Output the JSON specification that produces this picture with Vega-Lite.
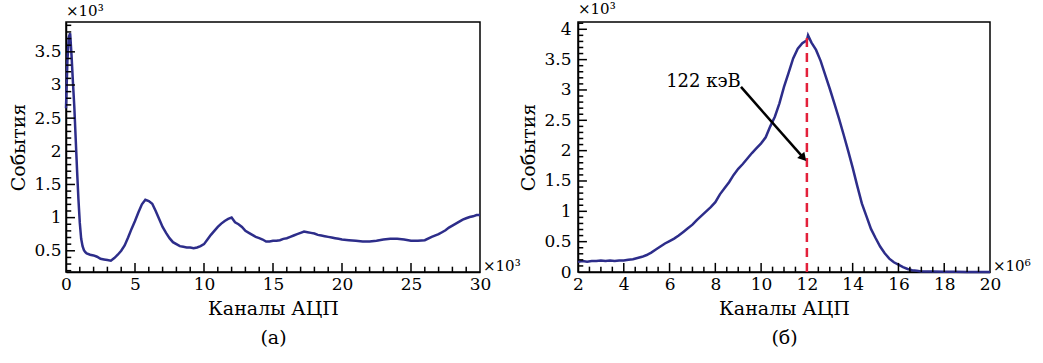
{
  "$schema": "https://vega.github.io/schema/vega-lite/v6.json",
  "padding": {"left": 9, "top": 1, "right": 5, "bottom": 5},
  "bounds": "flush",
  "spacing": 98,
  "config": {
    "font": "DejaVu Serif",
    "view": {"stroke": "black", "strokeWidth": 1.5},
    "axis": {
      "labelFont": "DejaVu Serif", "labelFontSize": 17, "labelColor": "black",
      "titleFont": "DejaVu Serif", "titleFontSize": 19, "titleFontWeight": "normal", "titleColor": "black",
      "domainColor": "black", "domainWidth": 1.5, "ticks": false, "tickCount": 200,
      "grid": false, "labelOverlap": false, "labelFlush": false, "labelBound": false
    },
    "title": {"font": "DejaVu Serif", "fontSize": 15, "fontWeight": "normal", "color": "black"}
  },
  "datasets": {
    "a": [
      {"x":0.0,"y":2.65},{"x":0.1,"y":3.35},{"x":0.2,"y":3.72},{"x":0.3,"y":3.78},{"x":0.4,"y":3.45},{"x":0.5,"y":3.05},{"x":0.6,"y":2.68},{"x":0.7,"y":2.2},{"x":0.8,"y":1.72},{"x":0.9,"y":1.28},{"x":1.0,"y":0.92},{"x":1.1,"y":0.68},{"x":1.2,"y":0.57},{"x":1.3,"y":0.51},{"x":1.4,"y":0.48},{"x":1.5,"y":0.46},
      {"x":1.75,"y":0.44},{"x":2.0,"y":0.43},{"x":2.25,"y":0.41},{"x":2.5,"y":0.38},{"x":2.75,"y":0.37},{"x":3.0,"y":0.36},{"x":3.25,"y":0.35},{"x":3.5,"y":0.39},{"x":3.75,"y":0.44},{"x":4.0,"y":0.5},{"x":4.25,"y":0.58},{"x":4.5,"y":0.7},{"x":4.75,"y":0.83},{"x":5.0,"y":0.95},{"x":5.25,"y":1.08},{"x":5.5,"y":1.2},{"x":5.75,"y":1.27},{"x":6.0,"y":1.25},{"x":6.25,"y":1.21},{"x":6.5,"y":1.1},{"x":6.75,"y":0.98},{"x":7.0,"y":0.86},{"x":7.25,"y":0.77},{"x":7.5,"y":0.69},{"x":7.75,"y":0.63},{"x":8.0,"y":0.6},{"x":8.25,"y":0.57},{"x":8.5,"y":0.56},{"x":8.75,"y":0.55},{"x":9.0,"y":0.55},{"x":9.25,"y":0.54},{"x":9.5,"y":0.55},{"x":9.75,"y":0.57},{"x":10.0,"y":0.6},{"x":10.25,"y":0.67},{"x":10.5,"y":0.74},{"x":10.75,"y":0.8},{"x":11.0,"y":0.86},{"x":11.25,"y":0.91},{"x":11.5,"y":0.95},{"x":11.75,"y":0.98},{"x":12.0,"y":1.0},{"x":12.25,"y":0.93},{"x":12.5,"y":0.9},{"x":12.75,"y":0.86},{"x":13.0,"y":0.8},{"x":13.25,"y":0.77},{"x":13.5,"y":0.74},{"x":13.75,"y":0.71},{"x":14.0,"y":0.69},{"x":14.25,"y":0.67},{"x":14.5,"y":0.64},{"x":14.75,"y":0.64},{"x":15.0,"y":0.65},{"x":15.25,"y":0.65},{"x":15.5,"y":0.66},{"x":15.75,"y":0.68},{"x":16.0,"y":0.69},{"x":16.25,"y":0.71},{"x":16.5,"y":0.73},{"x":16.75,"y":0.75},{"x":17.0,"y":0.77},{"x":17.25,"y":0.79},{"x":17.5,"y":0.78},{"x":17.75,"y":0.77},{"x":18.0,"y":0.76},{"x":18.25,"y":0.74},{"x":18.5,"y":0.73},{"x":18.75,"y":0.72},{"x":19.0,"y":0.71},{"x":19.25,"y":0.7},{"x":19.5,"y":0.69},{"x":19.75,"y":0.68},{"x":20.0,"y":0.67},{"x":20.5,"y":0.66},{"x":21.0,"y":0.65},{"x":21.5,"y":0.64},{"x":22.0,"y":0.64},{"x":22.5,"y":0.65},{"x":23.0,"y":0.67},{"x":23.5,"y":0.68},{"x":24.0,"y":0.68},{"x":24.5,"y":0.67},{"x":25.0,"y":0.65},{"x":25.5,"y":0.65},{"x":26.0,"y":0.66},{"x":26.5,"y":0.71},{"x":27.0,"y":0.75},{"x":27.25,"y":0.78},{"x":27.5,"y":0.81},{"x":27.75,"y":0.85},{"x":28.0,"y":0.88},{"x":28.25,"y":0.91},{"x":28.5,"y":0.94},{"x":28.75,"y":0.97},{"x":29.0,"y":0.99},{"x":29.25,"y":1.01},{"x":29.5,"y":1.02},{"x":29.75,"y":1.04},{"x":30.0,"y":1.04}
    ],
    "b": [
      {"x":2.0,"y":0.17},{"x":2.2,"y":0.18},{"x":2.4,"y":0.17},{"x":2.6,"y":0.18},{"x":2.8,"y":0.18},{"x":3.0,"y":0.19},{"x":3.2,"y":0.18},{"x":3.4,"y":0.19},{"x":3.6,"y":0.18},{"x":3.8,"y":0.19},{"x":4.0,"y":0.19},{"x":4.2,"y":0.2},{"x":4.4,"y":0.21},{"x":4.6,"y":0.23},{"x":4.8,"y":0.25},{"x":5.0,"y":0.28},{"x":5.2,"y":0.32},{"x":5.4,"y":0.37},{"x":5.6,"y":0.42},{"x":5.8,"y":0.47},{"x":6.0,"y":0.51},{"x":6.2,"y":0.55},{"x":6.4,"y":0.6},{"x":6.6,"y":0.66},{"x":6.8,"y":0.72},{"x":7.0,"y":0.78},{"x":7.2,"y":0.86},{"x":7.4,"y":0.93},{"x":7.6,"y":1.0},{"x":7.8,"y":1.07},{"x":8.0,"y":1.15},{"x":8.2,"y":1.28},{"x":8.4,"y":1.38},{"x":8.6,"y":1.48},{"x":8.8,"y":1.6},{"x":9.0,"y":1.7},{"x":9.2,"y":1.78},{"x":9.4,"y":1.87},{"x":9.6,"y":1.96},{"x":9.8,"y":2.04},{"x":10.0,"y":2.12},{"x":10.2,"y":2.22},{"x":10.4,"y":2.4},{"x":10.6,"y":2.56},{"x":10.8,"y":2.78},{"x":11.0,"y":3.05},{"x":11.2,"y":3.28},{"x":11.4,"y":3.52},{"x":11.6,"y":3.68},{"x":11.8,"y":3.77},{"x":12.0,"y":3.82},{"x":12.05,"y":3.9},{"x":12.2,"y":3.78},{"x":12.4,"y":3.66},{"x":12.6,"y":3.48},{"x":12.8,"y":3.25},{"x":13.0,"y":3.02},{"x":13.2,"y":2.78},{"x":13.4,"y":2.53},{"x":13.6,"y":2.27},{"x":13.8,"y":2.0},{"x":14.0,"y":1.72},{"x":14.2,"y":1.42},{"x":14.4,"y":1.13},{"x":14.6,"y":0.92},{"x":14.8,"y":0.71},{"x":15.0,"y":0.56},{"x":15.2,"y":0.42},{"x":15.4,"y":0.31},{"x":15.6,"y":0.22},{"x":15.8,"y":0.16},{"x":16.0,"y":0.12},{"x":16.2,"y":0.08},{"x":16.4,"y":0.05},{"x":16.6,"y":0.03},{"x":16.8,"y":0.02},{"x":17.0,"y":0.01},{"x":17.5,"y":0.01},{"x":18.0,"y":0.005},{"x":18.5,"y":0.003},{"x":19.0,"y":0.002},{"x":19.5,"y":0.001},{"x":20.0,"y":0.001}
    ],
    "majAx": [{"v":5},{"v":10},{"v":15},{"v":20},{"v":25}],
    "minAx": [{"v":1},{"v":2},{"v":3},{"v":4},{"v":6},{"v":7},{"v":8},{"v":9},{"v":11},{"v":12},{"v":13},{"v":14},{"v":16},{"v":17},{"v":18},{"v":19},{"v":21},{"v":22},{"v":23},{"v":24},{"v":26},{"v":27},{"v":28},{"v":29}],
    "majAy": [{"v":0.5},{"v":1},{"v":1.5},{"v":2},{"v":2.5},{"v":3},{"v":3.5}],
    "minAy": [{"v":0.2},{"v":0.3},{"v":0.4},{"v":0.6},{"v":0.7},{"v":0.8},{"v":0.9},{"v":1.1},{"v":1.2},{"v":1.3},{"v":1.4},{"v":1.6},{"v":1.7},{"v":1.8},{"v":1.9},{"v":2.1},{"v":2.2},{"v":2.3},{"v":2.4},{"v":2.6},{"v":2.7},{"v":2.8},{"v":2.9},{"v":3.1},{"v":3.2},{"v":3.3},{"v":3.4},{"v":3.6},{"v":3.7},{"v":3.8},{"v":3.9}],
    "majBx": [{"v":4},{"v":6},{"v":8},{"v":10},{"v":12},{"v":14},{"v":16},{"v":18}],
    "minBx": [{"v":2.5},{"v":3},{"v":3.5},{"v":4.5},{"v":5},{"v":5.5},{"v":6.5},{"v":7},{"v":7.5},{"v":8.5},{"v":9},{"v":9.5},{"v":10.5},{"v":11},{"v":11.5},{"v":12.5},{"v":13},{"v":13.5},{"v":14.5},{"v":15},{"v":15.5},{"v":16.5},{"v":17},{"v":17.5},{"v":18.5},{"v":19},{"v":19.5}],
    "majBy": [{"v":0.5},{"v":1},{"v":1.5},{"v":2},{"v":2.5},{"v":3},{"v":3.5},{"v":4}],
    "minBy": [{"v":0.1},{"v":0.2},{"v":0.3},{"v":0.4},{"v":0.6},{"v":0.7},{"v":0.8},{"v":0.9},{"v":1.1},{"v":1.2},{"v":1.3},{"v":1.4},{"v":1.6},{"v":1.7},{"v":1.8},{"v":1.9},{"v":2.1},{"v":2.2},{"v":2.3},{"v":2.4},{"v":2.6},{"v":2.7},{"v":2.8},{"v":2.9},{"v":3.1},{"v":3.2},{"v":3.3},{"v":3.4},{"v":3.6},{"v":3.7},{"v":3.8},{"v":3.9},{"v":4.1}],
    "peak": [{"x":12,"y":0,"y2":3.88}],
    "arrow": [{"x":9.12,"y":3.05,"x2":11.9,"y2":1.86}],
    "head": [{"x":11.85,"y":1.88}],
    "label": [{"x":9.2,"y":3.13,"t":"122 кэВ"}],
    "multA": [{"x":30,"y":0.18,"t":"×10³"}],
    "multB": [{"x":20,"y":0,"t":"×10⁶"}]
  },
  "hconcat": [
    {
      "width": 414, "height": 250,
      "title": {"text": "×10³", "anchor": "start", "frame": "group", "offset": 3},
      "layer": [
        {
          "data": {"name": "a"},
          "mark": {"type": "line", "interpolate": "linear", "color": "#2d2d8a", "strokeWidth": 2.5},
          "encoding": {
            "x": {"field": "x", "type": "quantitative",
              "scale": {"domain": [0, 30], "nice": false, "zero": false},
              "axis": {"title": ["Каналы АЦП", "(а)"], "titleLineHeight": 29, "titlePadding": 7, "labelOverlap": false, "tickCount": 200, "ticks": false,
                "values": [0,5,10,15,20,25,30],
                "labelExpr": "format(datum.value, '~g')",
                "labelPadding": 4}},
            "y": {"field": "y", "type": "quantitative",
              "scale": {"domain": [0.18, 3.95], "nice": false, "zero": false},
              "axis": {"title": "События", "titlePadding": 5, "labelOverlap": false, "tickCount": 200, "ticks": false,
                "values": [0.5,1,1.5,2,2.5,3,3.5],
                "labelExpr": "format(datum.value, '~g')",
                "labelPadding": 5}}
          }
        },
        {
          "data": {"name": "majAx"},
          "mark": {"type": "rule", "color": "black", "strokeWidth": 1.5},
          "encoding": {"x": {"field": "v", "type": "quantitative"}, "y": {"datum": 0.18}, "y2": {"datum": 0.316}}
        },
        {
          "data": {"name": "minAx"},
          "mark": {"type": "rule", "color": "black", "strokeWidth": 1.5},
          "encoding": {"x": {"field": "v", "type": "quantitative"}, "y": {"datum": 0.18}, "y2": {"datum": 0.26}}
        },
        {
          "data": {"name": "majAy"},
          "mark": {"type": "rule", "color": "black", "strokeWidth": 1.5},
          "encoding": {"y": {"field": "v", "type": "quantitative"}, "x": {"datum": 0}, "x2": {"datum": 0.65}}
        },
        {
          "data": {"name": "minAy"},
          "mark": {"type": "rule", "color": "black", "strokeWidth": 1.5},
          "encoding": {"y": {"field": "v", "type": "quantitative"}, "x": {"datum": 0}, "x2": {"datum": 0.38}}
        },
        {
          "data": {"name": "multA"},
          "mark": {"type": "text", "align": "left", "baseline": "alphabetic", "dx": 3, "dy": -1, "fontSize": 15, "font": "DejaVu Serif", "color": "black"},
          "encoding": {
            "x": {"field": "x", "type": "quantitative"},
            "y": {"field": "y", "type": "quantitative"},
            "text": {"field": "t"}
          }
        }
      ]
    },
    {
      "width": 412, "height": 250,
      "title": {"text": "×10³", "anchor": "start", "frame": "group", "offset": 3},
      "layer": [
        {
          "data": {"name": "b"},
          "mark": {"type": "line", "interpolate": "linear", "color": "#2d2d8a", "strokeWidth": 2.5},
          "encoding": {
            "x": {"field": "x", "type": "quantitative",
              "scale": {"domain": [2, 20], "nice": false, "zero": false},
              "axis": {"title": ["Каналы АЦП", "(б)"], "titleLineHeight": 29, "titlePadding": 7, "labelOverlap": false, "tickCount": 200, "ticks": false,
                "values": [2,4,6,8,10,12,14,16,18,20],
                "labelExpr": "format(datum.value, '~g')",
                "labelPadding": 4}},
            "y": {"field": "y", "type": "quantitative",
              "scale": {"domain": [0, 4.12], "nice": false, "zero": false},
              "axis": {"title": "События", "titlePadding": 5, "labelOverlap": false, "tickCount": 200, "ticks": false,
                "values": [0,0.5,1,1.5,2,2.5,3,3.5,4],
                "labelExpr": "format(datum.value, '~g')",
                "labelPadding": 7}}
          }
        },
        {
          "data": {"name": "majBx"},
          "mark": {"type": "rule", "color": "black", "strokeWidth": 1.5},
          "encoding": {"x": {"field": "v", "type": "quantitative"}, "y": {"datum": 0}, "y2": {"datum": 0.15}}
        },
        {
          "data": {"name": "minBx"},
          "mark": {"type": "rule", "color": "black", "strokeWidth": 1.5},
          "encoding": {"x": {"field": "v", "type": "quantitative"}, "y": {"datum": 0}, "y2": {"datum": 0.088}}
        },
        {
          "data": {"name": "majBy"},
          "mark": {"type": "rule", "color": "black", "strokeWidth": 1.5},
          "encoding": {"y": {"field": "v", "type": "quantitative"}, "x": {"datum": 2}, "x2": {"datum": 2.39}}
        },
        {
          "data": {"name": "minBy"},
          "mark": {"type": "rule", "color": "black", "strokeWidth": 1.5},
          "encoding": {"y": {"field": "v", "type": "quantitative"}, "x": {"datum": 2}, "x2": {"datum": 2.23}}
        },
        {
          "data": {"name": "peak"},
          "mark": {"type": "rule", "color": "#e3203b", "strokeWidth": 2.5, "strokeDash": [9, 6]},
          "encoding": {
            "x": {"field": "x", "type": "quantitative"},
            "y": {"field": "y", "type": "quantitative"},
            "y2": {"field": "y2"}
          }
        },
        {
          "data": {"name": "arrow"},
          "mark": {"type": "rule", "color": "black", "strokeWidth": 2.5},
          "encoding": {
            "x": {"field": "x", "type": "quantitative"},
            "y": {"field": "y", "type": "quantitative"},
            "x2": {"field": "x2"},
            "y2": {"field": "y2"}
          }
        },
        {
          "data": {"name": "head"},
          "mark": {"type": "point", "shape": "triangle-up", "filled": true, "color": "black", "size": 90, "angle": 139, "opacity": 1},
          "encoding": {
            "x": {"field": "x", "type": "quantitative"},
            "y": {"field": "y", "type": "quantitative"}
          }
        },
        {
          "data": {"name": "label"},
          "mark": {"type": "text", "align": "right", "baseline": "middle", "dx": -2, "fontSize": 18, "font": "DejaVu Serif", "color": "black"},
          "encoding": {
            "x": {"field": "x", "type": "quantitative"},
            "y": {"field": "y", "type": "quantitative"},
            "text": {"field": "t"}
          }
        },
        {
          "data": {"name": "multB"},
          "mark": {"type": "text", "align": "left", "baseline": "alphabetic", "dx": 3, "dy": -1, "fontSize": 15, "font": "DejaVu Serif", "color": "black"},
          "encoding": {
            "x": {"field": "x", "type": "quantitative"},
            "y": {"field": "y", "type": "quantitative"},
            "text": {"field": "t"}
          }
        }
      ]
    }
  ]
}
